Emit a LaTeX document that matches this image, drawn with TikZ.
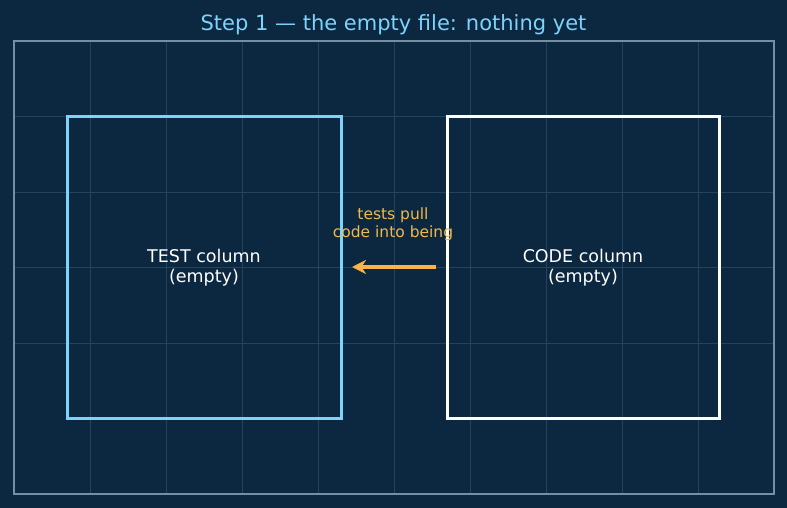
\documentclass[tikz,border=0pt]{standalone}
\usepackage{fontspec}
\setmainfont{DejaVu Sans}
\usetikzlibrary{arrows.meta}
\definecolor{bg}{HTML}{0B2840}
\definecolor{gridc}{HTML}{24445E}
\definecolor{framec}{HTML}{728FA6}
\definecolor{sky}{HTML}{7DD3FC}
\definecolor{amber}{HTML}{FBB347}
\definecolor{amberT}{HTML}{F0B84C}
\tikzset{
  boxlabel/.style={text=white, font=\fontsize{17.5}{20}\selectfont, align=center},
  colarea/.style={minimum height=301pt, anchor=north west, inner sep=0pt, outer sep=0pt},
}
\begin{document}
\begin{tikzpicture}[x=1pt,y=-1pt]
\fill[bg] (0,0) rectangle (787,508);
\useasboundingbox (0,0) rectangle (787,508);
% grid
\foreach \i in {1,...,9} \draw[gridc, line width=0.7pt] ({14+76*\i},41) -- ({14+76*\i},494);
\foreach \j in {1,...,4} \draw[gridc, line width=0.7pt] (14,{41+75.5*\j}) -- (774,{41+75.5*\j});
\draw[framec, line width=1.5pt] (14,41) rectangle (774,494);
% title
\node[text=sky, font=\fontsize{21}{24}\selectfont] (title) at (393.5,24.5) {Step 1 — the empty file: nothing yet};
% boxes
\node[colarea, minimum width=274pt] (test) at (67,117) {};
\node[colarea, minimum width=272pt] (code) at (447,117) {};
\draw[sky, line width=3pt] (test.north west) rectangle (test.south east);
\draw[white, line width=3pt] (code.north west) rectangle (code.south east);
\node[boxlabel] (testl) at (test.center) {TEST column\\(empty)};
\node[boxlabel] (codel) at (code.center) {CODE column\\(empty)};
% arrow
\coordinate (as) at (436,267);
\coordinate (ae) at (352,267);
\draw[amber, line width=3.2pt, -{Stealth[length=14pt,width=14pt]}] (as) -- (ae);
\node[text=amberT, font=\fontsize{15.5}{18}\selectfont, align=center] (al) at (393,224.5) {tests pull\\code into being};
\end{tikzpicture}
\end{document}
